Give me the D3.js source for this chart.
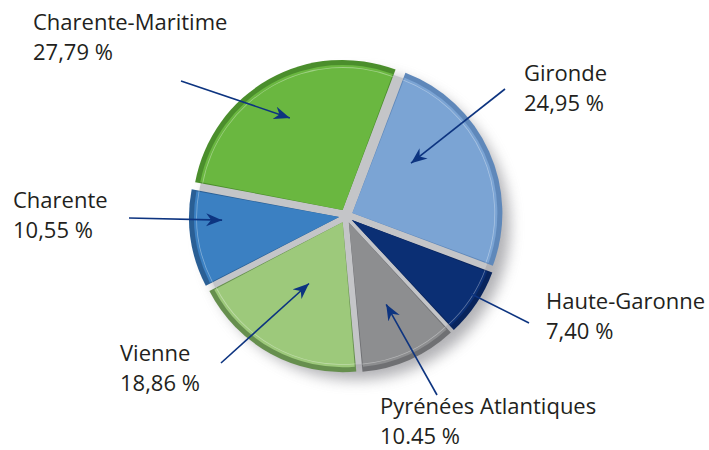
<!DOCTYPE html>
<html>
<head>
<meta charset="UTF-8">
<style>
  body { margin: 0; background: #fff; }
  svg { display: block; }
  text { font-family: "Open Sans", "Noto Sans", sans-serif; fill: #231f20; }
</style>
</head>
<body>
<svg></svg>
<script src="https://d3js.org/d3.v7.min.js"></script>
<script>
const regions = ["Gironde", "Haute-Garonne", "Pyrénées Atlantiques", "Vienne", "Charente", "Charente-Maritime"];
const shares = [24.95, 7.40, 10.45, 18.86, 10.55, 27.79];
const shareLabels = ["24,95 %", "7,40 %", "10.45 %", "18,86 %", "10,55 %", "27,79 %"];
const fills = ["#7ba4d4", "#0b2f74", "#8d8e90", "#9dc97b", "#3b80c2", "#6ab740"];
const rims = ["#5f88ba", "#08245c", "#6f7073", "#668f4e", "#2a5f95", "#4b8e2c"];

const width = 709, height = 450;
const cx = 346, cy = 216, R = 150, explode = 7;

// label + arrow layout (label anchor, arrow start, tip radius and angle shift)
const layout = [
  { lx: 524, ly: 81, sx: 505, sy: 89, tr: 77, da: -16, head: true },
  { lx: 546, ly: 309, sx: 529, sy: 323, tr: 140, da: -2, head: false },
  { lx: 380, ly: 414, sx: 437, sy: 395, tr: 90, da: -0.5, head: true },
  { lx: 120, ly: 361, sx: 221, sy: 363, tr: 70, da: 0, head: true },
  { lx: 13, ly: 208, sx: 129, sy: 218, tr: 117, da: 6.8, head: true },
  { lx: 33, ly: 30, sx: 181, sy: 81, tr: 106, da: -0.5, head: true }
];

const svg = d3.select("svg").attr("width", width).attr("height", height);
const defs = svg.append("defs");

defs.append("filter").attr("id", "shadow")
  .attr("x", "-20%").attr("y", "-20%").attr("width", "140%").attr("height", "140%")
  .append("feGaussianBlur").attr("stdDeviation", 7);

defs.append("marker").attr("id", "head")
  .attr("viewBox", "-16 -7 18 14").attr("markerWidth", 18).attr("markerHeight", 14)
  .attr("refX", 0).attr("refY", 0).attr("orient", "auto").attr("markerUnits", "userSpaceOnUse")
  .append("path").attr("d", "M0,0L-16,-6.5L-11,0L-16,6.5Z").attr("fill", "#0d3480");

const start = 20.7 * Math.PI / 180;
const pie = d3.pie().sort(null).startAngle(start).endAngle(start + 2 * Math.PI);
const arcs = pie(shares);

const arcOuter = d3.arc().innerRadius(0).outerRadius(R);
const arcInner = d3.arc().innerRadius(0).outerRadius(R - 5).padAngle(0.014).padRadius(R);
const arcLine = d3.arc().innerRadius(R - 8).outerRadius(R - 7.2);

function offset(d) {
  const a = (d.startAngle + d.endAngle) / 2;
  return [Math.sin(a) * explode, -Math.cos(a) * explode];
}

const g = svg.append("g").attr("transform", `translate(${cx},${cy})`);

// drop shadow
g.append("circle").attr("cx", 10).attr("cy", 10).attr("r", R + 4)
  .attr("fill", "#7e7e84").attr("opacity", 0.6).attr("filter", "url(#shadow)");

const tip = (d, i) => {
  const a = (d.startAngle + d.endAngle) / 2 + layout[i].da * Math.PI / 180;
  const o = offset(d);
  return [cx + o[0] + Math.sin(a) * layout[i].tr, cy + o[1] - Math.cos(a) * layout[i].tr];
};

// arrow whose head is hidden under the pie
svg.append("g").selectAll("line")
  .data(arcs.filter((d, i) => !layout[i].head))
  .join("line")
  .attr("x1", d => layout[d.index].sx).attr("y1", d => layout[d.index].sy)
  .attr("x2", d => tip(d, d.index)[0]).attr("y2", d => tip(d, d.index)[1])
  .attr("stroke", "#0d3480").attr("stroke-width", 1.6);

// grey base showing through the gaps
g.append("circle").attr("r", R - 1).attr("fill", "#c4c5c8");

const slice = g.selectAll("g.slice").data(arcs).join("g")
  .attr("class", "slice")
  .attr("transform", d => `translate(${offset(d)})`);

slice.append("path").attr("d", arcOuter)
  .attr("fill", (d, i) => rims[i]);
slice.append("path").attr("d", arcInner)
  .attr("fill", (d, i) => fills[i]);
slice.append("path").attr("d", arcLine)
  .attr("fill", "#fff").attr("opacity", 0.35);

// arrows on top
svg.append("g").selectAll("line")
  .data(arcs.filter((d, i) => layout[i].head))
  .join("line")
  .attr("x1", d => layout[d.index].sx).attr("y1", d => layout[d.index].sy)
  .attr("x2", d => tip(d, d.index)[0]).attr("y2", d => tip(d, d.index)[1])
  .attr("stroke", "#0d3480").attr("stroke-width", 1.6)
  .attr("marker-end", "url(#head)");

// labels
const labels = svg.append("g").selectAll("text").data(arcs).join("text")
  .attr("x", d => layout[d.index].lx).attr("y", d => layout[d.index].ly)
  .attr("font-size", 22);
labels.append("tspan").text(d => regions[d.index]);
labels.append("tspan").attr("x", d => layout[d.index].lx).attr("dy", 30)
  .text(d => shareLabels[d.index]);
</script>
</body>
</html>
